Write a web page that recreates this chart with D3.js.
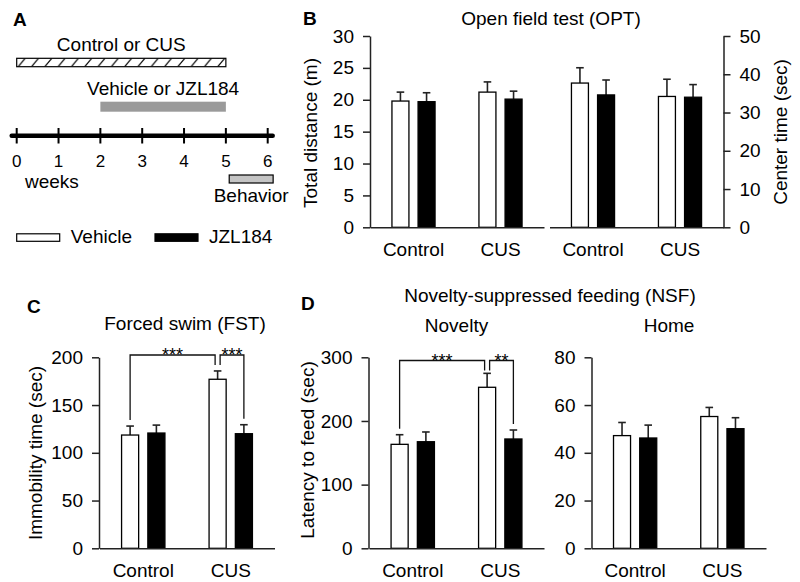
<!DOCTYPE html>
<html><head><meta charset="utf-8">
<script src="https://cdn.jsdelivr.net/npm/d3@7"></script>
<style>
body{margin:0;background:#fff}
svg{display:block}
text{font-family:"Liberation Sans",Arial,sans-serif;fill:#000}
</style>
</head><body>
<svg id="chart" width="800" height="582"></svg>
<script>
// ---------------- DATA ----------------
const categories = ["Control", "CUS"];
const seriesNames = ["Vehicle", "JZL184"];

// B: Open field test – total distance (m)
const distVehicle = [19.8, 21.2];
const distVehicleSEM = [1.4, 1.6];
const distJZL = [19.7, 20.1];
const distJZLSEM = [1.4, 1.25];
const distTicks = [0, 5, 10, 15, 20, 25, 30];

// B: Open field test – center time (sec)
const centerVehicle = [37.7, 34.2];
const centerVehicleSEM = [4.0, 4.5];
const centerJZL = [34.6, 34.0];
const centerJZLSEM = [3.9, 3.3];
const centerTicks = [0, 10, 20, 30, 40, 50];

// C: Forced swim – immobility time (sec)
const fstVehicle = [118.6, 177];
const fstVehicleSEM = [9.4, 8.7];
const fstJZL = [120.7, 120];
const fstJZLSEM = [8.3, 9.4];
const fstTicks = [0, 50, 100, 150, 200];

// D: NSF novelty – latency to feed (sec)
const nsfNovVehicle = [163.3, 252.9];
const nsfNovVehicleSEM = [15.1, 21.9];
const nsfNovJZL = [167.4, 171.7];
const nsfNovJZLSEM = [15.3, 14.1];
const nsfNovTicks = [0, 100, 200, 300];

// D: NSF home
const nsfHomeVehicle = [47.2, 55.2];
const nsfHomeVehicleSEM = [5.5, 3.8];
const nsfHomeJZL = [46.2, 50.1];
const nsfHomeJZLSEM = [5.4, 4.6];
const nsfHomeTicks = [0, 20, 40, 60, 80];

// A: timeline (weeks)
const weekTicks = [0, 1, 2, 3, 4, 5, 6];
const stressWeeks = [0, 5];
const drugWeeks = [2, 5];
const behaviorWeeks = [5.08, 6.13];

// significance comparisons: [category, series] pairs
const fstSig = [
  { a: ["Control", "Vehicle"], b: ["CUS", "Vehicle"], label: "***" },
  { a: ["CUS", "Vehicle"], b: ["CUS", "JZL184"], label: "***" }
];
const nsfSig = [
  { a: ["Control", "Vehicle"], b: ["CUS", "Vehicle"], label: "***" },
  { a: ["CUS", "Vehicle"], b: ["CUS", "JZL184"], label: "**" }
];

// ---------------- DRAWING ----------------
const svg = d3.select("#chart");
const FS = 19;
const defs = svg.append("defs");

function txt(x, y, s, opts = {}) {
  const t = svg.append("text").attr("x", x).attr("y", y).text(s)
    .attr("font-size", opts.size || FS)
    .attr("text-anchor", opts.anchor || "start");
  if (opts.bold) t.attr("font-weight", "bold");
  return t;
}
function vtxt(cx, cy, s) {
  svg.append("text")
    .attr("transform", `translate(${cx},${cy}) rotate(-90)`)
    .attr("text-anchor", "middle").attr("dy", "0.36em")
    .attr("font-size", FS).text(s);
}

function barPanel(cfg) {
  const x0 = d3.scaleBand().domain(categories).range(cfg.xRange);
  const x1 = d3.scaleBand().domain(seriesNames).range([0, x0.bandwidth()])
    .paddingInner(0.35).paddingOuter(0.84);
  const y = d3.scaleLinear().domain(cfg.domain).range(cfg.yRange);
  const data = categories.flatMap((c, i) => [
    { c, s: "Vehicle", v: cfg.veh[i], e: cfg.vehE[i] },
    { c, s: "JZL184", v: cfg.jzl[i], e: cfg.jzlE[i] }
  ]);
  const g = svg.append("g");
  const cx = d => x0(d.c) + x1(d.s) + x1.bandwidth() / 2;
  // error bars
  g.selectAll("line.err").data(data).join("line")
    .attr("x1", cx).attr("x2", cx)
    .attr("y1", d => y(d.v)).attr("y2", d => y(d.v + d.e))
    .attr("stroke", "#222").attr("stroke-width", 1.6);
  g.selectAll("line.cap").data(data).join("line")
    .attr("x1", d => cx(d) - 3.8).attr("x2", d => cx(d) + 3.8)
    .attr("y1", d => y(d.v + d.e)).attr("y2", d => y(d.v + d.e))
    .attr("stroke", "#222").attr("stroke-width", 1.6);
  // bars
  g.selectAll("rect").data(data).join("rect")
    .attr("x", d => x0(d.c) + x1(d.s)).attr("width", x1.bandwidth())
    .attr("y", d => y(d.v)).attr("height", d => y(0) - y(d.v))
    .attr("fill", d => d.s === "Vehicle" ? "#fff" : "#000")
    .attr("stroke", "#000").attr("stroke-width", 1.3);
  // y axis
  const ax = cfg.side === "right" ? d3.axisRight(y) : d3.axisLeft(y);
  const ya = svg.append("g").attr("transform", `translate(${cfg.axisX},0)`)
    .call(ax.tickValues(cfg.ticks).tickSize(7).tickPadding(9).tickSizeOuter(0));
  ya.attr("font-size", FS).attr("font-family", null);
  ya.selectAll("path,line").attr("stroke", "#222").attr("stroke-width", 1.5);
  // x axis
  const xa = svg.append("g").attr("transform", `translate(0,${cfg.yRange[0]})`)
    .call(d3.axisBottom(x0).tickSize(0).tickPadding(15).tickSizeOuter(0));
  xa.attr("font-size", FS).attr("font-family", null);
  xa.selectAll("path").attr("stroke", "#222").attr("stroke-width", 1.5);
  return { x0, x1, y, cx: (c, s) => x0(c) + x1(s) + x1.bandwidth() / 2,
           top: (c, s) => { const i = categories.indexOf(c);
             return s === "Vehicle" ? cfg.veh[i] + cfg.vehE[i] : cfg.jzl[i] + cfg.jzlE[i]; } };
}

function brackets(p, sig, yTop) {
  const gap = 6, off = 2.5;
  sig.forEach((s, k) => {
    let xa = p.cx(...s.a), xb = p.cx(...s.b);
    if (k === 0) xb -= off; else xa += off;
    const ya = k === 1 ? yTop + 10 : p.y(p.top(...s.a)) - gap;
    const yb = k === 0 ? yTop + 10 : p.y(p.top(...s.b)) - gap;
    svg.append("path")
      .attr("d", `M${xa},${ya}V${yTop}H${xb}V${yb}`)
      .attr("fill", "none").attr("stroke", "#111").attr("stroke-width", 1.3);
    txt((xa + xb) / 2, yTop + 6, s.label, { size: 18, anchor: "middle" });
  });
}

const topY = [227.3, 36], botY = [548.3, 357.3];

// ---- Panel B ----
barPanel({ xRange: [370, 544], yRange: topY, domain: [0, 30], ticks: distTicks,
  veh: distVehicle, vehE: distVehicleSEM, jzl: distJZL, jzlE: distJZLSEM, axisX: 370 });
barPanel({ xRange: [549.5, 723.5], yRange: topY, domain: [0, 50], ticks: centerTicks,
  veh: centerVehicle, vehE: centerVehicleSEM, jzl: centerJZL, jzlE: centerJZLSEM,
  axisX: 723.5, side: "right" });
txt(303, 25, "B", { bold: true, size: 19 });
txt(551, 25, "Open field test (OPT)", { anchor: "middle" });
vtxt(310, 133, "Total distance (m)");
vtxt(780, 132, "Center time (sec)");

// ---- Panel C ----
const pC = barPanel({ xRange: [99.5, 274.5], yRange: botY, domain: [0, 200], ticks: fstTicks,
  veh: fstVehicle, vehE: fstVehicleSEM, jzl: fstJZL, jzlE: fstJZLSEM, axisX: 99 });
brackets(pC, fstSig, 355);
txt(27, 313, "C", { bold: true, size: 19 });
txt(185, 330, "Forced swim (FST)", { anchor: "middle" });
vtxt(35, 453, "Immobility time (sec)");

// ---- Panel D ----
const pD = barPanel({ xRange: [369, 544], yRange: botY, domain: [0, 300], ticks: nsfNovTicks,
  veh: nsfNovVehicle, vehE: nsfNovVehicleSEM, jzl: nsfNovJZL, jzlE: nsfNovJZLSEM, axisX: 368.5 });
brackets(pD, nsfSig, 360.5);
barPanel({ xRange: [591.5, 766], yRange: botY, domain: [0, 80], ticks: nsfHomeTicks,
  veh: nsfHomeVehicle, vehE: nsfHomeVehicleSEM, jzl: nsfHomeJZL, jzlE: nsfHomeJZLSEM, axisX: 591.5 });
txt(301, 310, "D", { bold: true, size: 19 });
txt(550, 302, "Novelty-suppressed feeding (NSF)", { anchor: "middle" });
txt(456.5, 331.5, "Novelty", { anchor: "middle" });
txt(669, 331.5, "Home", { anchor: "middle" });
vtxt(307.5, 450, "Latency to feed (sec)");

// ---- Panel A ----
const xw = d3.scaleLinear().domain([0, 6]).range([16.7, 267.7]);
defs.append("pattern").attr("id", "hatch").attr("patternUnits", "userSpaceOnUse")
  .attr("x", xw(0)).attr("y", 58.3).attr("width", 13.3).attr("height", 8.4)
  .append("path").attr("d", "M1.5,8.4L8.5,0").attr("stroke", "#000").attr("stroke-width", 1.1);
txt(13, 26, "A", { bold: true, size: 19 });
txt((xw(stressWeeks[0]) + xw(stressWeeks[1])) / 2, 51, "Control or CUS", { anchor: "middle" });
svg.append("rect").attr("x", xw(stressWeeks[0])).attr("y", 58.3)
  .attr("width", xw(stressWeeks[1]) - xw(stressWeeks[0])).attr("height", 8.4)
  .attr("fill", "url(#hatch)").attr("stroke", "#000").attr("stroke-width", 1.2);
txt((xw(drugWeeks[0]) + xw(drugWeeks[1])) / 2, 95, "Vehicle or JZL184", { anchor: "middle" });
svg.append("rect").attr("x", xw(drugWeeks[0])).attr("y", 101.7)
  .attr("width", xw(drugWeeks[1]) - xw(drugWeeks[0])).attr("height", 10)
  .attr("fill", "#9a9a9a");
svg.append("line").attr("x1", xw(0) - 5).attr("x2", xw(6) + 5)
  .attr("y1", 135.7).attr("y2", 135.7).attr("stroke", "#000").attr("stroke-width", 4.5)
  .attr("stroke-linecap", "round");
svg.selectAll("line.wk").data(weekTicks).join("line").attr("class", "wk")
  .attr("x1", d => xw(d)).attr("x2", d => xw(d)).attr("y1", 128).attr("y2", 143.5)
  .attr("stroke", "#000").attr("stroke-width", 2);
svg.selectAll("text.wk").data(weekTicks).join("text").attr("class", "wk")
  .attr("x", d => xw(d)).attr("y", 167).attr("text-anchor", "middle")
  .attr("font-size", 17).text(d => d);
txt(25, 188, "weeks");
svg.append("rect").attr("x", xw(behaviorWeeks[0])).attr("y", 175)
  .attr("width", xw(behaviorWeeks[1]) - xw(behaviorWeeks[0])).attr("height", 8)
  .attr("fill", "#c4c4c4").attr("stroke", "#000").attr("stroke-width", 1.2);
txt((xw(behaviorWeeks[0]) + xw(behaviorWeeks[1])) / 2, 202, "Behavior", { anchor: "middle" });

// legend
const legX = [16.7, 155];
seriesNames.forEach((s, i) => {
  svg.append("rect").attr("x", legX[i]).attr("y", 233.8).attr("width", 43).attr("height", 7.5)
    .attr("fill", i === 0 ? "#fff" : "#000").attr("stroke", "#000").attr("stroke-width", 1.2);
  txt(legX[i] + 54, 243, s);
});
</script>
</body></html>
